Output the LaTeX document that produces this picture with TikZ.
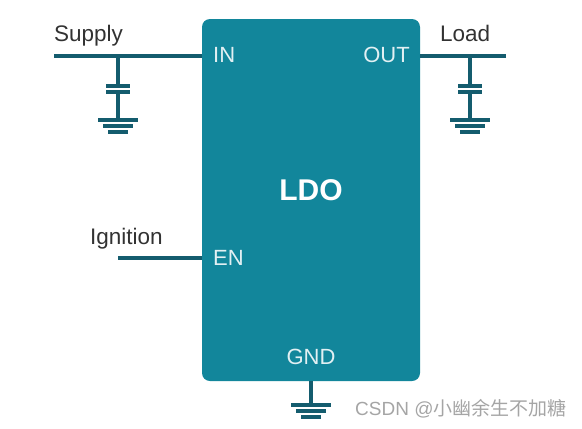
\documentclass[tikz,border=0pt]{standalone}
\usepackage{fontspec}
\setmainfont{Liberation Sans}
\newfontfamily\cjkfont{Noto Sans CJK SC}
\usetikzlibrary{positioning, calc}
\definecolor{colBody}{RGB}{18,134,155}
\definecolor{colWire}{RGB}{20,92,110}
\definecolor{colText}{RGB}{50,50,50}
\definecolor{colMark}{RGB}{165,165,165}

\begin{document}
\begin{tikzpicture}[
  x=1pt, y=-1pt,
  body/.style={rounded corners=8pt, minimum width=218pt, minimum height=362pt, inner sep=0pt,
               fill=colBody},
  title/.style={inner sep=0pt, font=\fontsize{30}{30}\selectfont\bfseries, text=white},
  pin/.style={inner sep=0pt, font=\fontsize{22}{22}\selectfont, text=white!88!colBody},
  net/.style={inner sep=0pt, anchor=base west, font=\fontsize{22.5}{22.5}\selectfont, text=colText},
  wire/.style={draw=colWire, line width=4.4pt},
  plate/.style={draw=colWire, line width=3.4pt},
  capsym/.pic={
    \draw[plate] (-12,0) -- (12,0);
    \draw[plate] (-12,6) -- (12,6);
  },
  gndsym/.pic={
    \draw[plate] (-20,0) -- (20,0);
    \draw[plate] (-15,6) -- (15,6);
    \draw[plate] (-10,12) -- (10,12);
  },
]
\useasboundingbox (0,0) rectangle (582,429);

% --- LDO BODY ---
\node[body] (ldo) at (311,200) {};
\node[title] (ldo_name) at (311,190) {LDO};
\node[pin, anchor=west]  (pin_in)  at (213,55)  {IN};
\node[pin, anchor=east]  (pin_out) at (410,55)  {OUT};
\node[pin, anchor=west]  (pin_en)  at (213,258) {EN};
\node[pin, anchor=south] (pin_gnd) at (311,365) {GND};

% --- NET LABELS ---
\node[net] (supply)   at (54,41)  {Supply};
\node[net] (load)     at (440,41) {Load};
\node[net] (ignition) at (90,244) {Ignition};

% --- WIRE ENDS ---
\coordinate (supply_end) at (54,56);
\coordinate (load_end)   at (506,56);
\coordinate (en_end)     at (118,258);
\coordinate (cin_top)    at (118,56);
\coordinate (cout_top)   at (470,56);
\coordinate (cin_gnd)    at (118,120);
\coordinate (cout_gnd)   at (470,120);
\coordinate (ldo_gnd)    at (311,405);

\draw[wire] (supply_end) -- (supply_end -| ldo.west);
\draw[wire] (load_end)   -- (load_end -| ldo.east);
\draw[wire] (en_end)     -- (en_end -| ldo.west);

% --- CAPACITORS ---
\pic at (118,86)  {capsym};
\pic at (470,86)  {capsym};
\draw[wire] (cin_top)  -- ++(0,30);
\draw[wire] (cin_gnd)  -- ++(0,-28);
\draw[wire] (cout_top) -- ++(0,30);
\draw[wire] (cout_gnd) -- ++(0,-28);

% --- GROUNDS ---
\pic at (cin_gnd)  {gndsym};
\pic at (cout_gnd) {gndsym};
\pic at (ldo_gnd)  {gndsym};
\draw[wire] (ldo.south) -- (ldo_gnd);

% --- WATERMARK ---
\node[inner sep=0pt, anchor=west, text=colMark, font=\fontsize{19}{19}\selectfont] (mark) at (355,409)
  {CSDN @{\cjkfont 小幽余生不加糖}};

\end{tikzpicture}
\end{document}
